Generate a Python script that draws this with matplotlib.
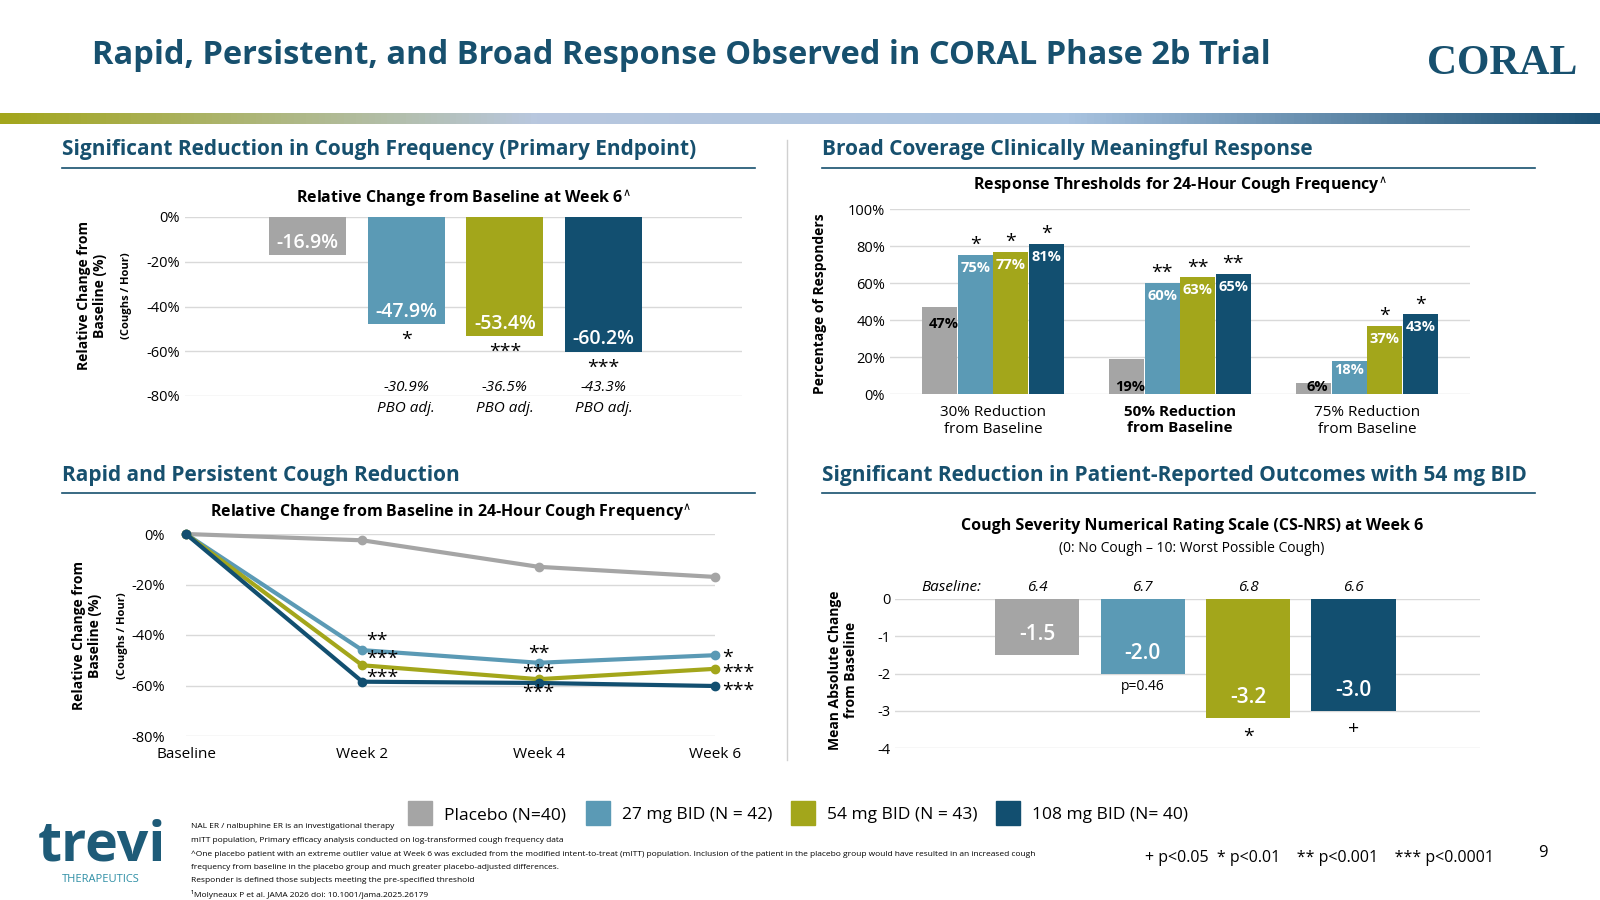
import matplotlib
matplotlib.use("Agg")
import matplotlib.pyplot as plt
import numpy as np
from matplotlib.patches import Rectangle
from matplotlib.colors import LinearSegmentedColormap

plt.rcParams['font.family'] = ['Open Sans', 'DejaVu Sans']

W, H = 1600, 900
colors = ['#A5A5A5', '#5B9AB5', '#A3A61B', '#124F70']
navy = '#17506E'
series = ['Placebo (N=40)', '27 mg BID (N = 42)', '54 mg BID (N = 43)', '108 mg BID (N= 40)']

# Panel 1
p1_vals = [-16.9, -47.9, -53.4, -60.2]
p1_sig = ['', '*', '***', '***']
p1_adj = ['', '-30.9%\nPBO adj.', '-36.5%\nPBO adj.', '-43.3%\nPBO adj.']
# Panel 2
p2_groups = ['30% Reduction\nfrom Baseline', '50% Reduction\nfrom Baseline', '75% Reduction\nfrom Baseline']
p2_vals = [[47, 75, 77, 81], [19, 60, 63, 65], [6, 18, 37, 43]]
p2_sig = [['', '*', '*', '*'], ['', '**', '**', '**'], ['', '', '*', '*']]
# Panel 3
p3_x = ['Baseline', 'Week 2', 'Week 4', 'Week 6']
p3_vals = [[0, -2.5, -13, -17], [0, -46, -51, -48], [0, -52, -57.5, -53.4], [0, -58.5, -59, -60.2]]
# Panel 4
p4_vals = [-1.5, -2.0, -3.2, -3.0]
p4_base = ['6.4', '6.7', '6.8', '6.6']
p4_note = ['', 'p=0.46', '*', '+']

fig = plt.figure(figsize=(16, 9), dpi=100)

def ax_px(x0, y0, x1, y1):
    return fig.add_axes([x0 / W, 1 - y1 / H, (x1 - x0) / W, (y1 - y0) / H])

def ftext(x, y, s, **kw):
    fig.text(x / W, 1 - y / H, s, **kw)

# Title
ftext(92, 55, 'Rapid, Persistent, and Broad Response Observed in CORAL Phase 2b Trial',
      fontsize=23.5, fontweight='bold', color=navy, va='center')
ftext(1502, 64, 'CORAL', fontsize=30, fontweight='bold', color=navy, va='center', ha='center',
      family=['Liberation Serif', 'DejaVu Serif'])
band = fig.add_axes([0, 1 - 124 / H, 1, 11 / H])
cmap = LinearSegmentedColormap.from_list('b', ['#A3A61B', '#B8C7DE', '#A9C3E0', '#1C5275'])
band.imshow(np.linspace(0, 1, 256)[None, :], aspect='auto', cmap=cmap)
band.axis('off')

def section(x0, x1, y, s):
    ftext(x0, y, s, fontsize=15, fontweight='bold', color=navy, va='center')
    fig.add_artist(plt.Line2D([x0 / W, x1 / W], [1 - (y + 18) / H] * 2, color=navy, lw=1.2))

section(62, 755, 150, 'Significant Reduction in Cough Frequency (Primary Endpoint)')
section(822, 1535, 150, 'Broad Coverage Clinically Meaningful Response')
section(62, 755, 475, 'Rapid and Persistent Cough Reduction')
section(822, 1535, 475, 'Significant Reduction in Patient-Reported Outcomes with 54 mg BID')
fig.add_artist(plt.Line2D([787 / W] * 2, [1 - 140 / H, 1 - 760 / H], color='#D0D0D0', lw=1))

def style(ax):
    for s in ax.spines.values():
        s.set_visible(False)
    ax.tick_params(length=0, labelsize=10.5)
    ax.set_axisbelow(True)
    ax.yaxis.grid(True, color='#D9D9D9', lw=1)

# Panel 1
ax1 = ax_px(185, 217, 742, 396)
style(ax1)
x = np.arange(4)
ax1.bar(x, p1_vals, width=0.78, color=colors)
ax1.set_ylim(-80, 0)
ax1.set_xlim(-1.24, 4.4)
ax1.set_yticks([0, -20, -40, -60, -80])
ax1.set_yticklabels(['0%', '-20%', '-40%', '-60%', '-80%'])
ax1.set_xticks([])
for i, v in enumerate(p1_vals):
    ax1.text(i, v + 5.5, f'{v}%', ha='center', va='center', color='white', fontsize=14, fontweight='semibold')
    if p1_sig[i]:
        ax1.text(i, v - 3, p1_sig[i], ha='center', va='top', fontsize=14)
    if p1_adj[i]:
        ax1.text(i, -73, p1_adj[i], ha='center', va='top', fontsize=11, style='italic', clip_on=False,
                 linespacing=1.5)
ax1.set_title('Relative Change from Baseline at Week 6$^{\\wedge}$', fontsize=11.5, fontweight='bold', pad=10)
ftext(92, 296, 'Relative Change from\nBaseline (%)', fontsize=10, fontweight='bold', rotation=90,
      ha='center', va='center')
ftext(127, 296, '(Coughs / Hour)', fontsize=8, fontweight='bold', rotation=90, ha='center', va='center')

# Panel 2
ax2 = ax_px(890, 209, 1470, 394)
style(ax2)
ax2.set_ylim(0, 100)
gx = np.arange(3)
bw = 0.19
for j in range(4):
    xs = gx + (j - 1.5) * bw
    vals = [p2_vals[g][j] for g in range(3)]
    ax2.bar(xs, vals, width=bw * 0.98, color=colors[j])
    for g in range(3):
        v = vals[g]
        if j == 0:
            ax2.text(xs[g] + 0.02, v - 9 if v > 25 else 4, f'{v}%', ha='center', va='center',
                     fontsize=10.5, fontweight='bold', color='black')
        else:
            ax2.text(xs[g], v - 7 if v > 25 else v - 5, f'{v}%', ha='center', va='center',
                     fontsize=10.5, fontweight='bold', color='white')
        if p2_sig[g][j]:
            ax2.text(xs[g], v + 0.5, p2_sig[g][j], ha='center', va='bottom', fontsize=14)
ax2.set_xlim(-0.55, 2.55)
ax2.set_yticks([0, 20, 40, 60, 80, 100])
ax2.set_yticklabels([f'{t}%' for t in [0, 20, 40, 60, 80, 100]])
ax2.set_xticks(gx)
ax2.set_xticklabels(p2_groups, fontsize=11)
ax2.get_xticklabels()[1].set_fontweight('bold')
ax2.tick_params(axis='x', pad=8)
ax2.set_title('Response Thresholds for 24-Hour Cough Frequency$^{\\wedge}$', fontsize=11.5,
              fontweight='bold', pad=14)
ftext(820, 304, 'Percentage of Responders', fontsize=10, fontweight='bold', rotation=90, ha='center', va='center')

# Panel 3
ax3 = ax_px(186, 534, 715, 736)
style(ax3)
ax3.set_ylim(-80, 0)
xi = np.arange(4)
for j in range(4):
    ax3.plot(xi, p3_vals[j], color=colors[j], lw=3, marker='o', ms=6, clip_on=False, zorder=3)
ax3.set_xlim(0, 3)
ax3.set_xticks(xi)
ax3.set_xticklabels(p3_x, fontsize=11)
ax3.tick_params(axis='x', pad=8)
ax3.set_yticks([0, -20, -40, -60, -80])
ax3.set_yticklabels(['0%', '-20%', '-40%', '-60%', '-80%'])
ax3.tick_params(axis='y', pad=15)
sigs = [(1.02, -42.5, '**', 'left'), (1.02, -49.5, '***', 'left'), (1.02, -57, '***', 'left'),
        (2, -47.5, '**', 'center'), (2, -55, '***', 'center'), (2, -63, '***', 'center'),
        (3.04, -49, '*', 'left'), (3.04, -55, '***', 'left'), (3.04, -62, '***', 'left')]
for sx, sy, s, ha in sigs:
    ax3.text(sx, sy, s, ha=ha, va='center', fontsize=14, clip_on=False)
ax3.set_title('Relative Change from Baseline in 24-Hour Cough Frequency$^{\\wedge}$', fontsize=11.5,
              fontweight='bold', pad=12)
ftext(87, 636, 'Relative Change from\nBaseline (%)', fontsize=10, fontweight='bold', rotation=90,
      ha='center', va='center')
ftext(122, 636, '(Coughs / Hour)', fontsize=8, fontweight='bold', rotation=90, ha='center', va='center')

# Panel 4
ax4 = ax_px(895, 599, 1480, 748)
style(ax4)
ax4.set_ylim(-4, 0)
x4 = np.arange(4)
ax4.bar(x4, p4_vals, width=0.8, color=colors)
ax4.set_xlim(-1.35, 4.2)
ax4.set_xticks([])
ax4.set_yticks([0, -1, -2, -3, -4])
ax4.set_yticklabels(['0', '-1', '-2', '-3', '-4'])
for i, v in enumerate(p4_vals):
    ax4.text(i, v + 0.55, f'{v}', ha='center', va='center', color='white', fontsize=15, fontweight='semibold')
    ax4.text(i, 0.3, p4_base[i], ha='center', va='center', fontsize=11, style='italic', clip_on=False)
    if p4_note[i] == 'p=0.46':
        ax4.text(i, v - 0.15, p4_note[i], ha='center', va='top', fontsize=10)
    elif p4_note[i]:
        ax4.text(i, v - 0.25, p4_note[i], ha='center', va='top', fontsize=14)
ax4.text(-1.1, 0.3, 'Baseline:', ha='left', va='center', fontsize=11, style='italic', clip_on=False)
ftext(1192, 526, 'Cough Severity Numerical Rating Scale (CS-NRS) at Week 6', fontsize=11.5,
      fontweight='bold', ha='center', va='center')
ftext(1192, 548, '(0: No Cough – 10: Worst Possible Cough)', fontsize=10, ha='center', va='center')
ftext(843, 670, 'Mean Absolute Change\nfrom Baseline', fontsize=10, fontweight='bold', rotation=90,
      ha='center', va='center')

# Legend
lx = [408, 586, 791, 996]
for j in range(4):
    fig.add_artist(Rectangle((lx[j] / W, 1 - 825 / H), 24 / W, 24 / H, color=colors[j]))
    ftext(lx[j] + 36, 815, series[j], fontsize=12.5, va='center')

# Footer
ftext(38, 846, 'trevi', fontsize=40, fontweight='bold', color='#1E5B78', va='center')
ftext(62, 880, 'THERAPEUTICS', fontsize=8, color='#2E8FA5', va='center')
foot = ['NAL ER / nalbuphine ER is an investigational therapy',
        'mITT population, Primary efficacy analysis conducted on log-transformed cough frequency data',
        '^One placebo patient with an extreme outlier value at Week 6 was excluded from the modified intent-to-treat (mITT) population. Inclusion of the patient in the placebo group would have resulted in an increased cough',
        'frequency from baseline in the placebo group and much greater placebo-adjusted differences.',
        'Responder is defined those subjects meeting the pre-specified threshold',
        '¹Molyneaux P et al. JAMA 2026 doi: 10.1001/jama.2025.26179']
for k, s in enumerate(foot):
    ftext(191, 827 + k * 13.5, s, fontsize=6, va='center')
ftext(1145, 858, '+ p<0.05  * p<0.01    ** p<0.001    *** p<0.0001', fontsize=11.5, va='center')
ftext(1543, 853, '9', fontsize=12, va='center', ha='center')

fig.savefig('out.png', dpi=100)
